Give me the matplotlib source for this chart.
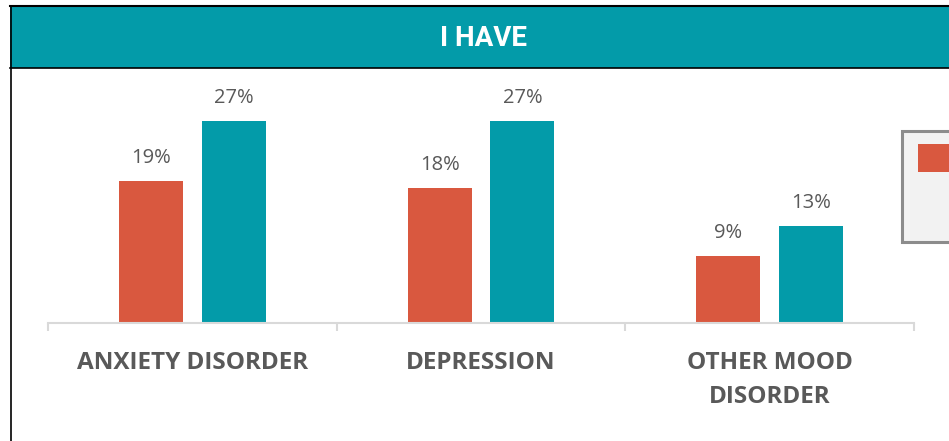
import matplotlib
matplotlib.use("Agg")
import matplotlib.pyplot as plt
from matplotlib.patches import Rectangle
import numpy as np

categories = ["ANXIETY DISORDER", "DEPRESSION", "OTHER MOOD\nDISORDER"]
series_a = [19, 18, 9]
series_b = [27, 27, 13]
series_names = ["Series A", "Series B"]
title = "I HAVE"

RED = "#d9583f"
TEAL = "#039ba9"
GRAY_TXT = "#595959"

W, H = 949, 441
fig = plt.figure(figsize=(W / 100, H / 100), dpi=100)
fig.patch.set_facecolor("white")

def fx(px):
    return px / W

def fy(py):
    return 1 - py / H

# header band and frame
fig.patches.append(Rectangle((fx(10), fy(68)), fx(949 - 10), (68 - 6) / H,
                             transform=fig.transFigure, facecolor=TEAL,
                             edgecolor="none", zorder=0))
fig.add_artist(plt.Line2D([fx(10), 1], [fy(6), fy(6)], color="black", lw=1.5, transform=fig.transFigure))
fig.add_artist(plt.Line2D([fx(10), 1], [fy(68), fy(68)], color="black", lw=1.2, transform=fig.transFigure))
fig.add_artist(plt.Line2D([fx(10.5), fx(10.5)], [fy(6), 0], color="black", lw=1.2, transform=fig.transFigure))
fig.text(fx(484), fy(38), title, color="white", fontsize=20, fontweight="bold",
         family="Roboto", ha="center", va="center")

# axes
bottom_px, top_px = 323, 75
left_px, right_px = 48, 914
ax = fig.add_axes([fx(left_px), fy(bottom_px), fx(right_px - left_px), (bottom_px - top_px) / H])
ppu = 7.48
ax.set_ylim(0, (bottom_px - top_px) / ppu)
ax.set_xlim(-0.5, len(categories) - 0.5)

x = np.arange(len(categories))
bw = 64 / 289
off = 41.5 / 289
ba = ax.bar(x - off, series_a, bw, color=RED, label=series_names[0], zorder=2)
bb = ax.bar(x + off, series_b, bw, color=TEAL, label=series_names[1], zorder=2)
for bars, vals in ((ba, series_a), (bb, series_b)):
    for rect, v in zip(bars, vals):
        ax.annotate(f"{v}%", (rect.get_x() + rect.get_width() / 2, v),
                    xytext=(0, 13), textcoords="offset pixels",
                    ha="center", va="bottom", fontsize=14.5, color=GRAY_TXT, family="Open Sans")

for s in ["top", "right", "left"]:
    ax.spines[s].set_visible(False)
ax.spines["bottom"].set_color("#d9d9d9")
ax.spines["bottom"].set_linewidth(1.5)
ax.set_yticks([])
ax.set_xticks(np.arange(-0.5, len(categories)), minor=False)
ax.set_xticklabels([])
ax.tick_params(axis="x", length=6, width=1.5, color="#d9d9d9")
ax.set_xticks(x, minor=True)
ax.set_xticklabels(categories, minor=True, fontsize=17.5, fontweight="bold",
                   color=GRAY_TXT, family="Open Sans", linespacing=1.58)
ax.tick_params(axis="x", which="minor", length=0, pad=20)
for lbl in ax.get_xticklabels(minor=True):
    lbl.set_verticalalignment("top")

# legend box (cut off at right edge)
fig.patches.append(Rectangle((fx(902), fy(242)), fx(60), (242 - 131) / H,
                             transform=fig.transFigure, facecolor="#f2f2f2",
                             edgecolor="#8c8c8c", lw=2.2, zorder=3))
fig.patches.append(Rectangle((fx(918), fy(172)), fx(40), (172 - 144) / H,
                             transform=fig.transFigure, facecolor=RED,
                             edgecolor="none", zorder=4))

fig.savefig("out.png", dpi=100)
